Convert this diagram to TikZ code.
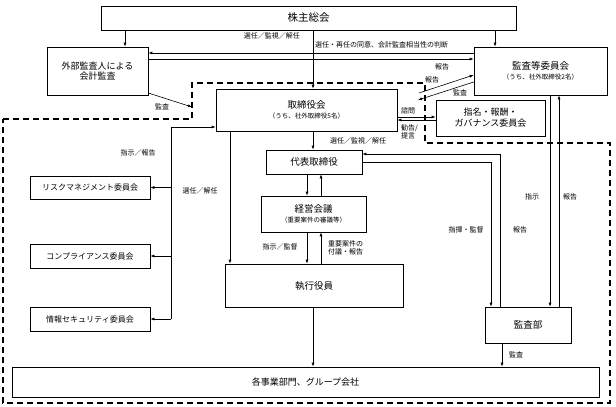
\documentclass[tikz,border=0pt]{standalone}
\usepackage{fontspec}
\setmainfont{Noto Sans CJK JP}
\usetikzlibrary{arrows.meta}
\begin{document}
\begin{tikzpicture}[x=1pt,y=-1pt,
  bx/.style={draw, line width=0.6pt, inner sep=0pt, align=center, font=\fontsize{9.5}{11}\selectfont},
  arr/.style={-{Latex[length=4pt,width=3pt]}, line width=0.6pt},
  ln/.style={line width=0.6pt},
  lbl/.style={font=\fontsize{7}{8.5}\selectfont, inner sep=0pt, align=left},
  dsh/.style={line width=1.3pt, dash pattern=on 6pt off 4pt}
]
\useasboundingbox (0,0) rectangle (616,407);
\newcommand{\subt}{\fontsize{6.5}{8}\selectfont}

% boxes
\node[bx, minimum width=415pt, minimum height=24pt, font=\fontsize{10.5}{12}\selectfont] (kabu) at (308.5,18) {株主総会};
\node[bx, minimum width=101pt, minimum height=48pt, font=\fontsize{9}{10}\selectfont] (gaibu) at (97.5,71) {外部監査人による\\会計監査};
\node[bx, minimum width=133pt, minimum height=48pt] (kansa) at (540.5,71) {監査等委員会\\[-1pt]{\subt （うち、社外取締役2名）}};
\node[bx, minimum width=181pt, minimum height=42pt] (tori) at (306.5,110) {取締役会\\[-1pt]{\subt （うち、社外取締役5名）}};
\node[bx, minimum width=109pt, minimum height=36pt, font=\fontsize{9}{11}\selectfont] (shimei) at (490.5,118) {指名・報酬・\\ガバナンス委員会};
\node[bx, minimum width=96pt, minimum height=24pt] (daihyo) at (314,162) {代表取締役};
\node[bx, minimum width=105pt, minimum height=36pt] (keiei) at (313.5,214) {経営会議\\[-1pt]{\subt （重要案件の審議等）}};
\node[bx, minimum width=178pt, minimum height=43pt] (shikko) at (314,285.5) {執行役員};
\node[bx, minimum width=120pt, minimum height=23pt, font=\fontsize{8}{10}\selectfont] (risk) at (90,187.5) {リスクマネジメント委員会};
\node[bx, minimum width=120pt, minimum height=24pt, font=\fontsize{8}{10}\selectfont] (comp) at (90,256) {コンプライアンス委員会};
\node[bx, minimum width=120pt, minimum height=24pt, font=\fontsize{8}{10}\selectfont] (info) at (90,319) {情報セキュリティ委員会};
\node[bx, minimum width=86pt, minimum height=36pt] (kansabu) at (528,325) {監査部};
\node[bx, minimum width=587pt, minimum height=30pt, font=\fontsize{9}{11}\selectfont] (jigyo) at (305.5,382) {各事業部門、グループ会社};

% dashed boundary
\draw[dsh] (3,119) -- (192,119) -- (192,83) -- (425,83) -- (425,143) -- (610,143) -- (610,403) -- (3,403) -- cycle;
\coordinate (dA) at (192,107);
\coordinate (dB) at (419,93);
\coordinate (dC) at (418,100);

% connectors
\draw[arr] (kabu.south -| 125,0) -- (gaibu.north -| 125,0);
\draw[arr] (kabu.south -| 495,0) -- (kansa.north -| 495,0);
\draw[arr] (kabu.south -| 313,0) -- (tori.north -| 313,0);
\node[lbl, anchor=east] (l1) at (300,36) {選任／監視／解任};

\draw[arr] (kansa.west |- 0,53) -- (gaibu.east |- 0,53);
\node[lbl, anchor=west] (l2) at (315,45) {選任・再任の同意、会計監査相当性の判断};
\draw[arr] (gaibu.east |- 0,59) -- (kansa.west |- 0,59);
\node[lbl] (l3) at (442,67) {報告};

\draw[arr] (gaibu.east |- 0,93) -- (dA);
\node[lbl] (l4) at (162,107) {監査};

\draw[arr] (dB) -- (kansa.west |- 0,75);
\node[lbl] (l5) at (432,80) {報告};
\draw[arr] (kansa.west |- 0,82) -- (dC);
\node[lbl] (l6) at (460,93) {監査};

\draw[arr] (tori.east |- 0,117) -- (shimei.west |- 0,117);
\draw[arr] (shimei.west |- 0,120) -- (tori.east |- 0,120);
\node[lbl, anchor=west] (l7) at (401,111) {諮問};
\node[lbl, anchor=north west] (l8) at (401,124) {勧告/\\提言};

\draw[arr] (tori.south -| 313,0) -- (daihyo.north -| 313,0);
\node[lbl, anchor=west] (l9) at (330,141) {選任／監視／解任};

% committees
\coordinate (bt) at (171,127);
\coordinate (bb) at (171,319);
\draw[ln] (bb) -- (bt);
\draw[arr] (bt) -- (tori.west |- bt);
\draw[arr] (risk.east -| bt) -- (risk.east);
\draw[arr] (comp.east -| bt) -- (comp.east);
\draw[arr] (info.east -| bt) -- (info.east);
\node[lbl] (l10) at (138,153) {指示／報告};

\draw[arr] (tori.south -| 230,0) -- (shikko.north -| 230,0);
\node[lbl] (l11) at (200,191) {選任／解任};

\draw[arr] (daihyo.south -| 307,0) -- (keiei.north -| 307,0);
\draw[arr] (keiei.north -| 321,0) -- (daihyo.south -| 321,0);
\draw[arr] (keiei.south -| 307,0) -- (shikko.north -| 307,0);
\node[lbl] (l12) at (280,247) {指示／監督};
\draw[arr] (shikko.north -| 321,0) -- (keiei.south -| 321,0);
\node[lbl, anchor=west] (l13) at (328,248) {重要案件の\\付議・報告};

\draw[arr] (shikko.south -| 313,0) -- (jigyo.north -| 313,0);

% audit dept
\draw[arr] (kansabu.north -| 500,0) -- (500,154) -- (daihyo.east |- 0,154);
\node[lbl] (l14) at (520,230) {報告};
\draw[arr] (daihyo.east |- 0,162) -- (491,162) -- (kansabu.north -| 491,0);
\node[lbl] (l15) at (466,230) {指揮・監督};
\draw[arr] (kansa.south -| 550,0) -- (kansabu.north -| 550,0);
\node[lbl] (l16) at (532,197) {指示};
\draw[arr] (kansabu.north -| 559,0) -- (kansa.south -| 559,0);
\node[lbl] (l17) at (570,197) {報告};
\draw[arr] (kansabu.south -| 502,0) -- (jigyo.north -| 502,0);
\node[lbl, anchor=west] (l18) at (509,355) {監査};
\end{tikzpicture}
\end{document}
